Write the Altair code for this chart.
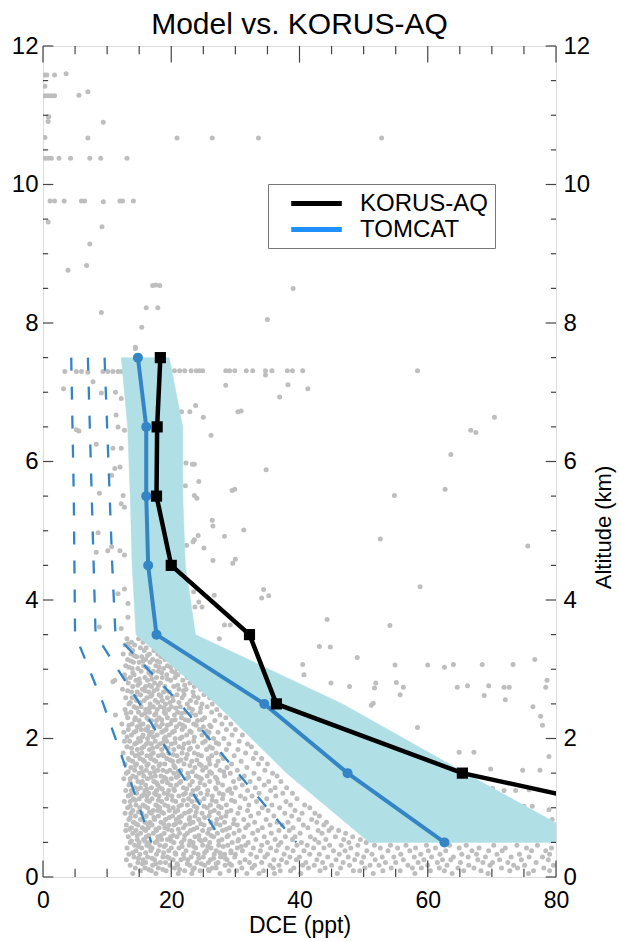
import altair as alt
import pandas as pd

FONT = "Liberation Sans"

# ---------------- data ----------------
ALT_LEVELS = [7.5, 6.5, 5.5, 4.5, 3.5, 2.5, 1.5, 0.5]
TOMCAT = [14.8, 16.1, 16.1, 16.4, 17.7, 34.5, 47.5, 62.6]
KORUS = [18.3, 17.8, 17.7, 20.0, 32.2, 36.4, 65.4, 115.0]
RANGE_MIN = [12.2, 13.2, 13.6, 13.9, 14.5, 27.0, 38.0, 50.9]
RANGE_MAX = [19.7, 21.8, 21.8, 22.2, 23.8, 46.7, 65.9, 85.5]
DASH_1 = [4.4, 4.6, 4.8, 4.9, 5.0, 9.4, 13.2, 16.9]
DASH_2 = [7.0, 7.3, 7.6, 7.9, 8.2, 15.1, 21.5, 28.0]
DASH_3 = [9.6, 10.0, 10.4, 10.8, 11.3, 21.4, 30.4, 39.5]

# sparse individual observations (x = DCE, y = altitude)
SPARSE_X = [0.3, 0.6, 1.8, 3.6, 0.3, 0.3, 0.8, 1.3, 1.8, 5.6, 7.0, 0.8, 0.9, 0.8, 9.4,
            0.3, 7.0, 20.9, 26.4, 33.6, 52.8, 0.3, 0.8, 1.3, 2.5, 4.3, 7.3, 9.0, 13.1,
            1.1, 1.8, 3.3, 6.0, 6.5, 9.4, 12.0, 12.4, 14.1, 0.8, 9.2, 7.3, 6.8, 3.9,
            17.1, 17.6, 18.2, 16.1, 17.9, 9.1, 15.4, 14.4, 39.0, 35.0,
            20.5, 21.3, 22.1, 23.1, 23.9, 24.4, 24.9, 28.5, 29.1, 29.9, 31.7, 32.7, 34.7,
            35.7, 38.1, 38.9, 40.5, 58.4, 34.7, 28.5, 38.2, 41.3, 36.9, 23.8, 21.6, 22.9,
            25.0, 30.4, 30.9, 26.2, 70.4, 66.7, 67.5, 63.6, 34.8, 22.3, 23.3, 23.6, 22.2,
            24.3, 23.6, 24.0, 29.5, 29.9, 54.8, 62.7, 26.4, 26.5, 31.3, 28.3, 24.2, 23.6,
            23.4, 22.4, 25.1, 52.6, 75.6, 26.5, 29.6, 30.0, 58.8, 34.4, 34.1, 35.2, 26.7,
            23.5, 24.3, 23.7, 24.8, 44.3, 54.1, 28.3, 29.2,
            3.4, 5.2, 6.0, 7.0, 9.35, 10.1, 10.9, 11.7, 12.2, 3.2, 7.8, 9.1, 11.3, 12.2,
            11.4, 5.2, 5.6, 11.7, 12.7, 8.3, 10.9, 12.2, 11.2, 12.0, 10.7, 8.8, 12.5, 12.2,
            12.7, 8.6, 8.3, 10.1, 10.7, 12.0, 12.7, 11.7, 12.7, 13.25, 13.25, 13.25, 12.2,
            8.8, 10.9, 43.1, 44.8, 49.0, 40.5, 40.7, 54.9, 60.0, 62.6, 64.0, 68.5, 73.3,
            76.7, 44.9, 47.8, 51.9, 51.7, 55.1, 56.2, 64.6, 66.2, 69.5, 71.9, 72.7, 78.6,
            78.4, 55.7, 68.8, 72.1, 51.5, 51.2, 76.4, 77.6, 77.9, 58.4, 64.9, 67.2, 74.8,
            77.5, 69.8, 78.9, 70.1, 71.9, 73.7, 75.8, 75.0, 76.3, 78.9, 79.4, 27.5, 14.4]
SPARSE_Y = [11.58, 11.58, 11.58, 11.6, 11.42, 11.28, 11.28, 11.28, 11.28, 11.29, 11.34, 10.98,
            10.98, 10.91, 10.9, 10.68, 10.67, 10.67, 10.67, 10.67, 10.67, 10.38, 10.38, 10.38,
            10.38, 10.38, 10.38, 10.38, 10.38, 9.76, 9.76, 9.76, 9.76, 9.76, 9.75, 9.76, 9.76,
            9.76, 9.46, 9.39, 9.14, 8.83, 8.76, 8.54, 8.55, 8.54, 8.22, 8.22, 8.15, 7.94, 7.65,
            8.5, 8.05,
            7.31, 7.31, 7.31, 7.31, 7.31, 7.31, 7.31, 7.31, 7.31, 7.31, 7.31, 7.31, 7.31,
            7.31, 7.31, 7.31, 7.31, 7.31, 7.25, 7.1, 7.11, 7.05, 6.93, 6.81, 6.72, 6.72,
            6.64, 6.72, 6.73, 6.38, 6.64, 6.45, 6.42, 6.1, 5.88, 5.98, 5.96, 5.96, 5.65,
            5.71, 5.51, 5.47, 5.58, 5.6, 5.51, 5.6, 5.15, 5.07, 5.01, 4.92, 4.93, 4.87,
            4.84, 4.79, 4.75, 4.88, 4.78, 4.57, 4.53, 4.59, 4.19, 4.15, 4.03, 4.06, 4.07,
            4.12, 3.97, 3.9, 3.9, 3.72, 3.63, 3.64, 3.64,
            7.3, 7.3, 7.3, 7.29, 7.3, 7.3, 7.3, 7.3, 7.3, 7.05, 7.15, 6.99, 7.0, 6.91,
            6.67, 6.46, 6.44, 6.5, 6.45, 6.25, 6.19, 6.19, 5.9, 5.92, 5.8, 5.54, 5.51, 5.39,
            5.34, 4.97, 4.69, 4.71, 4.77, 4.71, 4.65, 4.09, 4.16, 3.95, 3.75, 3.37, 3.59,
            3.61, 2.82, 3.33, 3.32, 3.17, 3.07, 2.92, 3.06, 3.06, 3.03, 3.07, 3.07, 3.07,
            3.14, 2.8, 2.75, 2.8, 2.73, 2.81, 2.74, 2.74, 2.76, 2.76, 2.74, 2.74, 2.84,
            2.74, 2.63, 2.62, 2.56, 2.51, 2.48, 2.46, 2.32, 2.19, 2.16, 1.8, 1.8, 1.54,
            1.54, 1.56, 1.74, 1.28, 1.25, 1.25, 1.26, 1.02, 1.02, 0.97, 0.83, 3.44, 7.63]

# dense low-altitude cloud, read row by row (altitude, DCE values)
DENSE_ROWS = [
    (3.44, [13.1, 14.9, 16.4]),
    (3.39, [13.8, 15.6]),
    (3.35, [12.8, 14.3, 16.9, 17.8]),
    (3.31, [13.5, 15.2, 16.1]),
    (3.27, [14.0, 15.8, 17.3, 18.9]),
    (3.22, [12.5, 13.7, 16.6, 17.9]),
    (3.18, [14.6, 15.4, 18.4, 19.7]),
    (3.14, [13.2, 16.0, 17.1, 19.0]),
    (3.10, [14.1, 15.0, 16.7, 18.2, 20.3]),
    (3.05, [12.9, 15.7, 17.6, 19.4]),
    (3.01, [13.9, 14.8, 16.4, 18.8, 20.9]),
    (2.97, [15.3, 17.2, 18.0, 20.1, 21.6]),
    (2.92, [12.7, 14.2, 16.8, 19.3, 21.0]),
    (2.88, [13.6, 15.9, 17.7, 18.6, 20.6, 22.5]),
    (2.84, [11.2, 14.5, 16.3, 19.9, 21.8]),
    (2.80, [13.3, 15.1, 17.4, 18.3, 22.9]),
    (2.75, [14.0, 16.0, 16.9, 19.0, 20.4, 23.6]),
    (2.71, [12.4, 15.5, 17.8, 21.2, 22.3, 24.6]),
    (2.67, [13.8, 14.7, 16.5, 18.8, 19.7, 23.4]),
    (2.63, [15.2, 17.0, 18.1, 20.9, 22.0, 25.1]),
    (2.59, [12.9, 13.9, 16.2, 19.4, 21.7, 24.2, 26.0]),
    (2.55, [14.6, 15.8, 17.5, 18.6, 20.3, 23.0]),
    (2.50, [13.4, 16.7, 19.1, 22.5, 24.8, 26.4]),
    (2.46, [14.2, 15.3, 17.2, 18.3, 20.0, 21.4, 25.6]),
    (2.42, [12.8, 16.0, 17.8, 19.6, 23.3, 27.1]),
    (2.38, [13.7, 14.9, 16.6, 18.9, 21.0, 22.2, 24.5, 26.3]),
    (2.34, [11.3, 15.4, 17.4, 20.5, 23.8, 27.6]),
    (2.30, [13.2, 14.4, 16.2, 18.1, 19.4, 21.6, 25.2, 28.5]),
    (2.26, [15.0, 16.9, 17.7, 20.1, 22.7, 24.1, 26.8]),
    (2.21, [12.3, 13.9, 15.6, 18.6, 19.9, 21.3, 23.5, 27.9, 29.3]),
    (2.17, [14.7, 16.4, 17.3, 18.2, 20.8, 22.1, 25.0, 26.2]),
    (2.13, [13.3, 15.3, 16.0, 19.2, 21.7, 24.4, 28.6, 30.0]),
    (2.09, [12.6, 14.2, 17.0, 18.5, 20.2, 23.1, 25.9, 27.3]),
    (2.05, [13.8, 15.6, 16.6, 17.8, 19.7, 22.4, 24.8, 29.5, 31.1]),
    (2.00, [14.9, 16.3, 18.9, 20.6, 21.4, 26.6, 28.2]),
    (1.96, [12.7, 13.5, 15.2, 17.5, 19.3, 23.5, 25.3, 30.6]),
    (1.92, [14.3, 16.1, 16.9, 18.2, 20.0, 22.0, 27.4, 29.0, 31.9]),
    (1.88, [13.1, 15.7, 17.8, 19.0, 21.2, 24.1, 26.0, 32.5]),
    (1.84, [14.7, 16.6, 18.5, 20.4, 22.8, 25.5, 28.6, 30.4]),
    (1.79, [12.5, 13.9, 15.4, 17.2, 19.6, 21.7, 23.6, 27.0, 31.6, 33.2]),
    (1.75, [14.4, 16.2, 18.0, 18.8, 20.9, 24.7, 26.3, 29.8]),
    (1.71, [13.3, 15.1, 16.8, 19.3, 22.3, 25.8, 28.1, 32.8, 34.1]),
    (1.67, [14.0, 15.8, 17.6, 20.2, 21.1, 23.2, 27.3, 30.9]),
    (1.63, [12.8, 14.6, 16.4, 18.3, 19.0, 22.0, 24.4, 26.0, 29.4, 33.6, 35.0]),
    (1.58, [13.7, 15.3, 17.2, 20.6, 23.7, 25.4, 28.7, 31.8]),
    (1.54, [14.3, 16.1, 17.9, 18.7, 19.8, 21.5, 24.9, 27.6, 30.3, 34.6]),
    (1.50, [13.0, 15.0, 16.7, 20.4, 22.6, 26.3, 29.2, 32.9, 35.8]),
    (1.46, [14.0, 15.7, 17.5, 18.4, 21.1, 23.9, 25.6, 28.3, 31.4, 36.5]),
    (1.42, [12.6, 13.6, 16.3, 19.2, 20.0, 22.3, 24.7, 27.1, 30.6, 33.7]),
    (1.38, [14.8, 15.5, 17.3, 18.6, 21.5, 23.3, 26.0, 29.7, 32.3, 35.2, 37.1]),
    (1.33, [13.4, 16.0, 17.9, 19.9, 20.8, 22.9, 25.2, 28.0, 31.1, 34.5]),
    (1.29, [14.3, 15.2, 16.9, 18.2, 21.9, 24.2, 26.9, 30.0, 33.1, 36.2, 38.0]),
    (1.25, [12.9, 13.8, 15.9, 17.7, 19.6, 20.5, 23.4, 25.7, 28.8, 31.9, 35.5]),
    (1.21, [14.6, 16.5, 17.4, 18.9, 22.2, 24.6, 27.5, 29.4, 33.7, 37.4, 38.9]),
    (1.17, [13.3, 15.4, 16.2, 18.1, 20.1, 21.2, 23.8, 26.4, 30.8, 32.6, 36.3]),
    (1.13, [14.1, 15.0, 17.0, 19.3, 22.7, 25.1, 28.0, 31.5, 34.9, 39.6]),
    (1.09, [12.7, 13.6, 16.6, 18.5, 20.7, 23.2, 24.4, 27.0, 29.9, 33.3, 37.9]),
    (1.04, [14.5, 15.6, 17.6, 19.0, 21.6, 22.5, 26.1, 28.6, 32.1, 35.7, 38.6, 40.8]),
    (1.00, [13.2, 15.1, 16.3, 18.2, 20.3, 24.0, 25.6, 27.8, 30.7, 34.2, 36.9, 41.6]),
    (0.96, [14.0, 17.2, 17.9, 19.7, 21.0, 23.0, 26.7, 29.3, 31.9, 35.1, 39.3]),
    (0.92, [12.8, 13.7, 15.4, 16.9, 18.8, 22.1, 24.8, 27.4, 30.4, 33.6, 37.7, 40.4, 42.4]),
    (0.88, [14.4, 16.1, 18.0, 20.2, 21.6, 23.7, 25.9, 28.5, 32.4, 36.0, 38.8, 43.1]),
    (0.83, [13.4, 15.2, 17.4, 19.1, 20.8, 22.8, 24.3, 27.1, 29.8, 31.3, 34.8, 39.9, 41.9]),
    (0.79, [14.1, 15.9, 16.7, 18.4, 21.4, 23.4, 26.2, 28.3, 33.0, 36.5, 38.2, 42.7, 44.2]),
    (0.75, [13.0, 14.8, 17.0, 19.6, 20.4, 22.2, 25.1, 27.6, 30.3, 32.0, 35.4, 37.3, 40.6, 43.8]),
    (0.71, [13.8, 15.5, 16.4, 18.1, 19.0, 21.9, 24.0, 26.5, 29.1, 31.6, 34.2, 39.0, 41.3, 45.0]),
    (0.67, [12.9, 14.5, 16.0, 17.7, 20.1, 23.0, 24.9, 28.0, 30.6, 33.5, 36.8, 38.4, 42.9, 44.6, 46.1]),
    (0.63, [14.0, 15.2, 17.2, 18.9, 21.3, 22.5, 25.7, 27.2, 29.8, 32.7, 35.6, 40.1, 43.5, 47.2]),
    (0.58, [13.3, 16.1, 17.9, 19.9, 20.9, 23.7, 26.6, 28.7, 31.3, 34.5, 37.8, 39.3, 41.7, 45.6, 48.3]),
    (0.54, [14.7, 15.7, 18.5, 19.4, 22.0, 24.4, 25.3, 27.9, 30.5, 33.2, 36.2, 38.9, 42.4, 44.1, 46.9, 49.5]),
    (0.50, [13.6, 15.0, 16.6, 17.5, 20.4, 21.6, 23.4, 26.0, 29.5, 32.0, 35.0, 37.1, 40.3, 43.0, 47.7, 50.4]),
    (0.46, [14.3, 16.2, 18.2, 19.1, 22.8, 24.9, 27.4, 28.8, 31.6, 34.1, 36.7, 39.6, 41.2, 44.7, 46.5,
            49.1, 51.7, 54.2, 56.6, 59.8, 63.4, 66.0, 70.3, 73.9, 77.1]),
    (0.42, [13.1, 15.4, 17.0, 20.0, 21.2, 23.8, 26.2, 30.3, 32.8, 35.5, 38.1, 42.2, 43.8, 48.0, 52.6,
            55.3, 58.1, 61.2, 64.9, 68.0, 72.1, 75.4, 79.3]),
    (0.38, [14.5, 16.8, 18.0, 19.6, 22.3, 25.5, 27.0, 29.3, 31.1, 33.9, 36.4, 39.0, 40.7, 45.3, 47.1,
            50.5, 53.8, 57.2, 60.1, 62.8, 66.9, 69.5, 71.6, 76.2, 78.4]),
    (0.33, [13.4, 15.1, 17.7, 20.7, 21.9, 24.2, 26.7, 28.3, 30.0, 32.4, 35.0, 37.6, 41.6, 43.1, 46.2,
            49.0, 51.3, 55.8, 58.9, 61.9, 65.3, 67.6, 70.8, 74.3, 79.0]),
    (0.29, [14.2, 16.3, 18.7, 19.4, 23.1, 25.0, 27.7, 29.9, 33.3, 34.6, 38.5, 40.0, 44.4, 47.6, 50.0,
            52.9, 54.7, 57.9, 60.6, 64.0, 66.3, 69.0, 73.0, 75.8, 77.9]),
    (0.25, [13.0, 15.6, 17.4, 20.3, 21.5, 22.6, 26.1, 28.7, 31.5, 36.0, 37.2, 39.5, 42.7, 45.7, 48.6,
            51.8, 56.2, 59.4, 62.3, 63.6, 67.8, 71.2, 74.6, 78.8]),
    (0.21, [14.8, 16.0, 18.3, 19.1, 24.0, 25.8, 27.3, 30.7, 32.2, 34.1, 38.0, 41.0, 43.6, 46.8, 49.7,
            53.4, 55.0, 58.5, 61.5, 65.1, 68.6, 70.1, 72.5, 76.9]),
    (0.17, [13.6, 17.1, 19.8, 21.0, 22.9, 25.2, 28.4, 29.4, 33.0, 35.4, 36.8, 40.5, 42.3, 45.0, 47.8,
            51.0, 52.4, 56.9, 60.0, 63.0, 66.4, 69.7, 73.4, 75.1, 79.6]),
    (0.13, [14.4, 15.9, 18.0, 20.5, 23.6, 26.4, 27.0, 31.0, 32.6, 35.9, 39.1, 41.4, 44.0, 46.4, 50.2,
            54.3, 57.6, 59.0, 61.8, 64.7, 67.2, 71.5, 74.0, 78.1]),
    (0.09, [15.2, 16.9, 19.2, 22.1, 24.5, 25.9, 29.0, 30.2, 34.4, 37.0, 38.6, 43.2, 48.4, 49.4, 53.0,
            55.7, 60.4, 62.6, 65.6, 68.3, 72.8, 76.5, 79.0]),
    (0.05, [14.0, 17.6, 21.1, 23.2, 27.6, 31.8, 33.7, 36.1, 40.2, 45.9, 51.5, 58.0, 63.8, 69.4, 75.7]),
]

# extra observations in the densest part of the cloud
CORE_ROWS = [
    (3.20, [14.2, 16.3]),
    (3.12, [13.7, 15.6, 17.8]),
    (3.03, [13.4, 16.1, 18.1, 19.9]),
    (2.95, [14.0, 16.5, 18.5, 20.6]),
    (2.86, [12.9, 15.0, 17.0, 19.4]),
    (2.77, [14.8, 16.6, 18.0, 21.0, 22.1]),
    (2.69, [13.2, 15.9, 17.3, 19.2, 21.9]),
    (2.61, [14.4, 16.8, 18.4, 20.2, 23.5]),
    (2.52, [13.6, 15.2, 17.9, 19.8, 21.2, 23.9]),
    (2.44, [14.6, 16.6, 18.9, 20.7, 22.8, 24.6]),
    (2.36, [13.0, 15.9, 17.6, 19.1, 21.6, 23.1]),
    (2.27, [14.3, 16.5, 18.5, 20.6, 22.2, 24.8]),
    (2.19, [13.4, 15.1, 17.6, 19.4, 21.8, 23.9, 26.0]),
    (2.11, [14.5, 16.4, 18.8, 20.5, 22.9, 25.5]),
    (2.02, [13.1, 15.5, 17.2, 19.1, 21.7, 23.6, 25.7]),
    (1.94, [14.6, 16.4, 18.7, 20.6, 22.7, 24.9, 27.0]),
    (1.86, [13.8, 15.4, 17.1, 19.5, 21.8, 23.0, 26.4]),
    (1.77, [14.9, 16.9, 18.6, 20.3, 22.5, 24.2, 27.8]),
    (1.69, [13.5, 15.6, 17.3, 19.8, 21.5, 24.0, 25.9]),
    (1.61, [14.4, 16.2, 18.1, 20.4, 22.9, 24.7, 27.0]),
    (1.52, [13.3, 15.5, 17.4, 19.3, 21.1, 23.3, 26.0, 28.2]),
    (1.44, [14.5, 16.9, 18.9, 20.8, 22.7, 24.3, 26.9]),
    (1.36, [13.6, 15.3, 17.7, 19.4, 21.3, 24.5, 27.3]),
    (1.27, [14.8, 16.2, 18.6, 20.4, 22.4, 24.0, 27.0, 29.1]),
    (1.19, [13.7, 15.7, 17.6, 19.5, 21.9, 23.1, 25.6, 28.1]),
    (1.11, [14.4, 16.2, 18.0, 20.2, 21.9, 24.0, 26.4, 29.4]),
    (1.02, [13.6, 15.9, 17.9, 19.5, 21.2, 23.6, 25.1, 27.4]),
    (0.94, [14.9, 16.6, 18.5, 20.6, 22.7, 23.9, 26.1, 28.7]),
    (0.86, [13.6, 15.7, 17.3, 19.7, 21.2, 22.9, 25.2, 27.8]),
    (0.77, [14.5, 16.3, 18.8, 20.7, 22.9, 24.6, 27.0, 29.7]),
    (0.69, [13.5, 15.8, 17.6, 19.5, 21.1, 23.5, 25.9, 28.6]),
    (0.60, [14.7, 16.5, 18.4, 20.3, 22.1, 24.3, 26.2, 28.9]),
    (0.52, [13.8, 15.9, 17.8, 20.0, 22.9, 24.7, 27.4, 30.4]),
    (0.44, [14.9, 16.6, 18.9, 21.7, 23.5, 25.7, 28.1, 30.9]),
    (0.35, [14.0, 16.0, 18.8, 20.6, 23.5, 25.2, 27.6, 29.3]),
    (0.27, [14.9, 17.0, 19.7, 22.0, 24.3, 26.6, 28.4]),
    (0.19, [15.5, 17.6, 20.9, 22.5, 24.7, 27.0, 29.1]),
    (0.11, [16.5, 18.7, 21.3, 23.4, 25.8]),
]

X_MAJOR = [0, 20, 40, 60, 80]
X_MINOR = [5, 10, 15, 25, 30, 35, 45, 50, 55, 65, 70, 75]
Y_MAJOR = [0, 2, 4, 6, 8, 10, 12]
Y_MINOR = [0.5, 1, 1.5, 2.5, 3, 3.5, 4.5, 5, 5.5, 6.5, 7, 7.5, 8.5, 9, 9.5, 10.5, 11, 11.5]

# ---------------- tables ----------------
pts = [{"x": x, "y": y} for x, y in zip(SPARSE_X, SPARSE_Y)]
for yy, xs in DENSE_ROWS + CORE_ROWS:
    pts += [{"x": x, "y": yy} for x in xs]
scatter_df = pd.DataFrame(pts)

idx = list(range(len(ALT_LEVELS)))
# polygon outline of the model range: min edge top->bottom, then max edge bottom->top
poly_df = pd.DataFrame({
    "x": RANGE_MIN + RANGE_MAX[::-1],
    "y": ALT_LEVELS + ALT_LEVELS[::-1],
    "k": list(range(2 * len(ALT_LEVELS))),
})
dash_df = pd.concat([
    pd.DataFrame({"y": ALT_LEVELS, "x": d, "i": idx, "run": name})
    for name, d in [("r1", DASH_1), ("r2", DASH_2), ("r3", DASH_3)]
])
tom_df = pd.DataFrame({"y": ALT_LEVELS, "x": TOMCAT, "i": idx, "series": "TOMCAT"})
kor_df = pd.DataFrame({"y": ALT_LEVELS, "x": KORUS, "i": idx, "series": "KORUS-AQ"})

W, H = 513, 831
BLUE = "#3485C6"
CYAN = "#B0E0E6"
XS = alt.Scale(domain=[0, 80], nice=False, zero=False)
YS = alt.Scale(domain=[0, 12], nice=False, zero=False)
COLOR = alt.Scale(domain=["KORUS-AQ", "TOMCAT"], range=["black", "#1E90FF"])
LEG = alt.Legend(title=None, orient="none", legendX=225, legendY=138,
                 symbolType="M-2.3,0H2.3", symbolStrokeWidth=5, symbolSize=484,
                 labelFontSize=24, labelFont=FONT, labelColor="black",
                 labelOffset=30, symbolOffset=29, padding=6, rowPadding=0,
                 fillColor="white", strokeColor="#777777")


def X(field):
    return alt.X(f"{field}:Q", scale=XS, axis=None)


def Y(field):
    return alt.Y(f"{field}:Q", scale=YS, axis=None)


scatter = alt.Chart(scatter_df).mark_circle(size=25, color="#BEBEBE", opacity=1, clip=True).encode(
    x=X("x"), y=Y("y"))

band = alt.Chart(poly_df).mark_line(fill=CYAN, stroke=CYAN, strokeWidth=0.5, fillOpacity=1,
                                    interpolate="linear-closed", clip=True).encode(
    x=X("x"), y=Y("y"), order=alt.Order("k:Q"))

dashes = alt.Chart(dash_df).mark_line(strokeDash=[13, 16], strokeWidth=2.3, color=BLUE, clip=True).encode(
    x=X("x"), y=Y("y"), detail="run:N", order="i:Q")

tom_line = alt.Chart(tom_df).mark_line(strokeWidth=4, clip=True, color=BLUE).encode(
    x=X("x"), y=Y("y"), order="i:Q")
tom_pts = alt.Chart(tom_df).mark_point(shape="circle", filled=True, size=100, opacity=1,
                                       color=BLUE, clip=True).encode(x=X("x"), y=Y("y"))

kor_line = alt.Chart(kor_df).mark_line(strokeWidth=4.5, clip=True, color="black").encode(
    x=X("x"), y=Y("y"), order="i:Q")
kor_pts = alt.Chart(kor_df).mark_point(shape="square", filled=True, size=125, opacity=1,
                                       color="black", clip=True).encode(x=X("x"), y=Y("y"))

# legend carrier: invisible line layer holding both series names
legend_df = pd.concat([tom_df, kor_df])
legend_layer = alt.Chart(legend_df).mark_line(strokeWidth=0, opacity=0, clip=True).encode(
    x=X("x"), y=Y("y"), order="i:Q",
    stroke=alt.Stroke("series:N", scale=COLOR, legend=LEG))

TICK = dict(color="#444444", strokeWidth=1.2)

xmaj_df = pd.DataFrame({"v": X_MAJOR})
xmin_df = pd.DataFrame({"v": X_MINOR})
ymaj_df = pd.DataFrame({"v": Y_MAJOR})
ymin_df = pd.DataFrame({"v": Y_MINOR})

bottom_axis = alt.Axis(orient="bottom", values=X_MAJOR, ticks=False, tickSize=0, domain=False,
                       grid=False, labelFontSize=23, labelFont=FONT, labelColor="black",
                       labelPadding=12, labelFlush=False, title="DCE (ppt)", titleFont=FONT,
                       titleFontSize=23, titleFontWeight="normal", titleColor="black",
                       titlePadding=2, format="d")
left_axis = alt.Axis(orient="left", values=Y_MAJOR, ticks=False, tickSize=0, domain=False,
                     grid=False, labelFontSize=24, labelFont=FONT, labelColor="black",
                     labelPadding=5, labelFlush=False, title=None, format="d")
right_axis = alt.Axis(orient="right", values=Y_MAJOR, ticks=False, tickSize=0, domain=False,
                      grid=False, labelFontSize=24, labelFont=FONT, labelColor="black",
                      labelPadding=7, labelFlush=False, title="Altitude (km)", titleFont=FONT,
                      titleFontSize=22, titleFontWeight="normal", titleColor="black",
                      titleAngle=270, titleBaseline="top", titleX=37, titleY=481,
                      titleAlign="center", format="d")

bx_major = alt.Chart(xmaj_df).mark_rule(**TICK).encode(
    x=alt.X("v:Q", scale=XS, axis=bottom_axis), y=alt.value(H), y2=alt.value(H - 16.6))
bx_minor = alt.Chart(xmin_df).mark_rule(**TICK).encode(
    x=X("v"), y=alt.value(H), y2=alt.value(H - 8.3))
tx_major = alt.Chart(xmaj_df).mark_rule(**TICK).encode(
    x=X("v"), y=alt.value(0), y2=alt.value(16.6))
tx_minor = alt.Chart(xmin_df).mark_rule(**TICK).encode(
    x=X("v"), y=alt.value(0), y2=alt.value(8.3))
ly_major = alt.Chart(ymaj_df).mark_rule(**TICK).encode(
    y=alt.Y("v:Q", scale=YS, axis=left_axis), x=alt.value(0), x2=alt.value(10.3))
ly_minor = alt.Chart(ymin_df).mark_rule(**TICK).encode(
    y=Y("v"), x=alt.value(0), x2=alt.value(5.1))
ry_major = alt.Chart(ymaj_df).mark_rule(**TICK).encode(
    y=alt.Y("v:Q", scale=YS, axis=right_axis), x=alt.value(W), x2=alt.value(W - 10.3))
ry_minor = alt.Chart(ymin_df).mark_rule(**TICK).encode(
    y=Y("v"), x=alt.value(W), x2=alt.value(W - 5.1))

chart = alt.layer(
    scatter, band, dashes, tom_line, tom_pts, kor_line, kor_pts, legend_layer,
    bx_major, bx_minor, tx_major, tx_minor, ly_major, ly_minor, ry_major, ry_minor,
).resolve_axis(x="independent", y="independent").properties(
    width=W, height=H,
    autosize=alt.AutoSizeParams(type="none"),
    padding={"left": 43, "top": 46, "right": 63, "bottom": 64},
    title=alt.TitleParams("Model vs. KORUS-AQ", fontSize=30, font=FONT, fontWeight="normal",
                          color="black", anchor="middle", offset=12, dy=18),
).configure_view(stroke="#444444", strokeWidth=1.5).configure(background="white")

chart.save("out.html", embed_options={"renderer": "svg", "actions": False})
